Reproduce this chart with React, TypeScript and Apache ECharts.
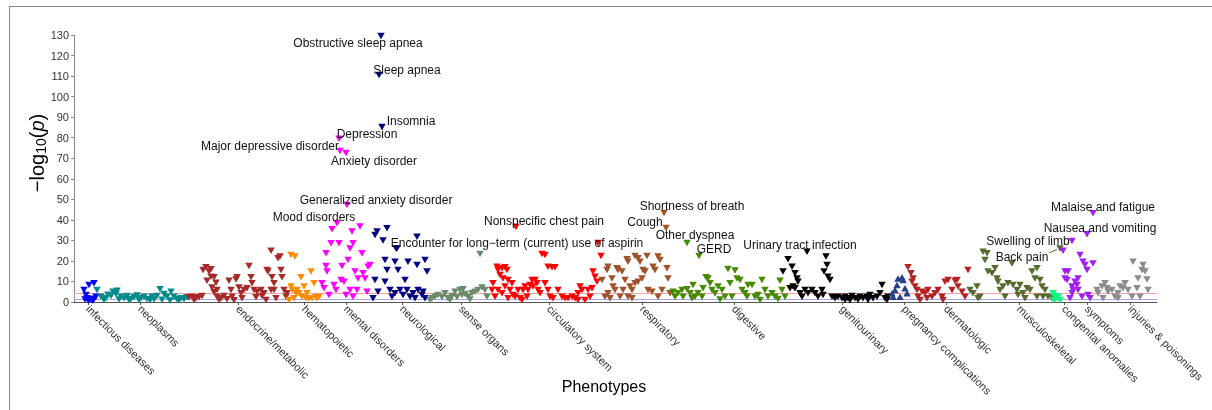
import React, { useEffect, useRef } from "react";
import * as echarts from "echarts";

// ---- categories (phenotype groups) ----
const groupNames = [
  "infectious diseases", "neoplasms", "endocrine/metabolic", "hematopoietic",
  "mental disorders", "neurological", "sense organs", "circulatory system",
  "respiratory", "digestive", "genitourinary", "pregnancy complications",
  "dermatologic", "musculoskeletal", "congenital anomalies", "symptoms",
  "injuries & poisonings",
];
// x position (phenotype order index) of each group label
const groupTicks = [88, 140, 238, 304, 346, 402, 461, 549, 642, 734, 842, 904, 946, 1019, 1064, 1087, 1130];

// ---- series values: [phenotype index, -log10(p)] ----
const infectious = [[84,5.8],[89,8.3],[94,9.1],[86,3.4],[87,1.8],[91,1.3],[94,1.6],[96,2.6],[89,1.0],[92,1.0],[85,1.2],[88,0.8],[93,0.6]];
const neoplasms = [[97,5.8],[101,2.6],[106,1.8],[111,2.9],[113,5.0],[116,3.9],[117,5.5],[121,2.6],[124,1.8],[127,2.9],[131,1.5],[134,2.3],[137,3.2],[141,1.8],[144,2.6],[147,1.5],[152,2.6],[157,2.9],[160,6.2],[164,3.9],[167,2.6],[171,5.0],[174,2.6],[177,1.3],[181,1.8],[184,1.3],[187,2.3],[104,1.0],[119,1.2],[129,0.8],[139,1.0],[150,0.9],[162,1.1],[170,0.7],[179,0.9],[108,3.5],[154,1.2]];
const endocrine = [[189,2.3],[192,2.6],[196,1.8],[199,2.3],[202,2.9],[203,15.6],[206,16.9],[209,14.8],[211,15.9],[207,10.4],[211,12.3],[214,12.0],[216,9.4],[217,5.8],[212,7.1],[214,4.7],[217,2.6],[221,1.8],[224,2.9],[227,1.3],[229,10.4],[231,5.8],[232,2.6],[236,11.0],[237,12.0],[239,7.1],[241,4.2],[242,1.8],[244,5.8],[247,6.7],[249,17.5],[251,12.0],[252,9.1],[254,5.8],[256,2.3],[257,5.0],[261,5.8],[262,2.9],[264,4.2],[267,15.6],[268,14.8],[271,25.0],[272,12.0],[274,9.1],[276,1.8],[278,21.3],[280,22.1],[281,15.6],[282,12.0],[284,5.8],[286,2.6],[287,4.2],[274,5.8],[271,5.8],[266,1.0],[194,1.0],[219,1.0],[234,0.8]];
const hematopoietic = [[291,22.9],[295,22.1],[291,7.5],[292,5.8],[294,1.8],[296,4.2],[297,5.8],[299,4.2],[301,12.0],[302,2.6],[304,7.5],[306,1.8],[307,4.2],[309,1.8],[311,14.8],[312,1.8],[314,9.1],[316,2.3],[317,1.8],[319,2.6],[289,1.0]];
const mental = [[322,9.1],[324,6.7],[326,23.7],[326,17.5],[327,14.8],[329,3.4],[331,28.6],[332,35.4],[334,8.3],[336,5.8],[339,28.6],[341,10.7],[342,17.5],[344,9.9],[346,3.4],[352,34.3],[353,28.6],[350,26.1],[360,36.7],[362,23.7],[363,14.0],[365,11.5],[368,17.2],[370,18.0],[355,14.8],[357,5.8],[358,11.5],[348,20.5],[367,5.0],[350,5.8],[353,2.6]];
const neurological = [[375,32.6],[377,34.3],[383,29.9],[387,35.9],[385,20.5],[387,15.6],[395,19.6],[398,15.6],[397,26.1],[408,19.6],[417,31.8],[417,18.0],[425,20.5],[427,14.8],[375,10.7],[385,9.9],[390,5.8],[392,2.6],[395,4.2],[400,5.8],[403,3.4],[407,5.8],[410,2.6],[413,4.2],[415,1.8],[418,5.8],[422,3.4],[423,5.0],[425,1.8],[405,10.7],[373,1.8],[378,5.0],[396,26.0]];
const senseOrgans = [[432,1.8],[435,2.6],[438,3.4],[442,2.3],[445,4.2],[448,1.8],[452,2.9],[455,5.0],[460,5.8],[462,3.4],[465,3.9],[468,2.6],[472,4.2],[475,5.0],[478,5.8],[482,7.1],[485,5.8],[487,2.6],[463,6.2],[457,2.3],[480,23.4],[430,1.0],[450,1.0],[470,1.2]];
const circulatory = [[497,17.2],[498,15.6],[502,16.4],[505,16.9],[507,15.6],[500,13.1],[503,11.5],[508,10.7],[512,9.1],[492,5.8],[495,2.6],[493,9.1],[498,5.8],[502,4.2],[505,7.5],[510,5.8],[513,3.4],[515,2.6],[518,5.8],[520,1.8],[523,5.8],[525,7.5],[527,2.6],[528,5.8],[530,8.3],[532,10.7],[533,7.5],[535,10.7],[537,9.1],[538,5.8],[540,4.2],[542,23.4],[545,22.9],[548,17.2],[552,16.9],[555,16.9],[545,9.1],[548,5.8],[550,2.6],[553,1.8],[558,5.8],[562,2.6],[565,1.8],[568,1.8],[572,2.6],[575,1.8],[578,4.2],[580,7.5],[582,5.8],[585,1.0],[588,5.8],[593,14.8],[595,12.3],[601,22.4],[597,9.9],[592,6.7],[590,2.6],[578,1.0],[508,1.8],[522,1.0]];
const respiratory = [[602,10.7],[607,15.6],[608,17.2],[612,11.5],[613,7.5],[615,5.8],[608,4.2],[610,1.8],[605,2.6],[617,16.4],[618,15.6],[622,14.8],[627,20.8],[628,19.6],[635,22.4],[638,21.3],[640,19.6],[647,22.4],[658,22.1],[660,20.5],[625,10.7],[630,7.5],[635,9.1],[638,9.9],[642,11.5],[643,15.6],[645,14.8],[653,17.2],[655,15.6],[667,16.4],[668,11.5],[632,5.8],[628,2.6],[648,5.8],[652,5.0],[662,5.8],[623,5.8],[620,2.6],[658,2.6],[632,1.8],[670,4.2]];
const digestive = [[673,5.0],[675,2.6],[678,4.2],[682,5.8],[683,2.6],[687,6.2],[690,4.2],[693,8.3],[695,2.6],[698,4.2],[703,6.7],[706,12.0],[708,11.5],[710,9.1],[712,5.8],[715,4.2],[718,7.5],[722,5.8],[725,2.6],[728,16.1],[730,9.1],[735,15.3],[737,11.5],[740,10.7],[742,5.8],[745,4.2],[748,8.3],[752,8.3],[755,2.6],[758,3.4],[762,10.7],[765,5.8],[768,2.6],[772,4.2],[775,2.6],[780,10.4],[782,5.8],[785,2.6],[747,2.6],[732,2.6],[702,2.6],[692,1.8],[720,1.2],[760,1.0],[778,1.5]];
const genitourinary = [[783,14.8],[788,20.8],[792,17.2],[795,14.0],[797,11.5],[798,9.9],[793,7.5],[790,6.7],[795,6.7],[800,4.2],[802,2.6],[805,5.8],[808,4.2],[812,5.8],[815,4.2],[818,2.6],[822,5.8],[824,14.8],[826,22.1],[827,18.0],[828,12.3],[830,10.7],[823,3.4],[832,2.6],[835,1.8],[838,2.6],[842,1.8],[845,2.6],[848,1.8],[852,2.9],[855,1.8],[860,2.6],[863,1.8],[867,2.6],[870,3.4],[873,1.8],[877,2.6],[880,4.2],[882,8.3],[885,1.8],[888,2.6],[887,1.0],[868,1.0],[845,1.0],[850,0.8],[858,1.1]];
const pregnancy = [[892,4.2],[895,5.8],[897,8.3],[898,11.5],[902,12.0],[903,10.7],[905,6.7],[900,2.6],[893,2.6],[907,4.2]];
const dermatologic = [[908,16.9],[911,14.0],[912,9.9],[913,11.5],[915,7.5],[917,5.8],[918,2.6],[922,5.0],[925,4.2],[928,5.8],[932,2.6],[935,4.2],[938,5.8],[942,2.6],[945,9.9],[948,10.7],[952,5.8],[955,10.4],[957,10.7],[958,7.5],[962,5.0],[965,2.6],[968,15.6],[920,1.0],[943,1.0],[927,1.8]];
const musculoskeletal = [[970,5.8],[973,4.2],[977,7.5],[980,2.6],[983,24.5],[987,23.7],[985,20.5],[988,14.8],[992,14.0],[995,16.4],[997,11.5],[998,9.9],[1000,5.8],[1003,7.5],[1008,9.1],[1012,18.8],[1013,8.3],[1017,5.8],[1020,8.3],[1023,4.2],[1027,6.7],[1030,5.8],[1032,14.8],[1035,11.5],[1037,16.4],[1040,10.7],[1042,7.5],[1043,2.6],[1045,5.8],[1048,2.6],[1052,1.8],[978,1.8],[1005,2.6],[1025,1.8],[1018,3.4],[1037,2.6]];
const congenital = [[1053,4.2],[1055,2.9],[1057,1.8],[1058,2.6],[1060,1.0],[1054,1.0]];
const symptoms = [[1065,14.8],[1068,14.8],[1065,11.5],[1067,10.7],[1072,7.5],[1073,5.8],[1075,9.9],[1077,8.3],[1078,5.8],[1082,2.6],[1083,19.6],[1085,18.0],[1080,22.9],[1087,15.6],[1088,3.4],[1090,1.8],[1093,18.8],[1072,4.2],[1070,1.8],[1078,11.5],[1063,25.0]];
const injuries = [[1097,5.8],[1098,4.2],[1102,7.5],[1105,9.1],[1107,6.7],[1108,5.0],[1112,5.8],[1115,2.6],[1118,4.2],[1120,7.5],[1123,6.7],[1125,9.1],[1128,5.8],[1132,2.6],[1133,19.6],[1137,6.7],[1138,11.5],[1142,15.6],[1143,18.0],[1145,14.8],[1147,11.0],[1148,5.8],[1140,2.6],[1118,1.8],[1103,1.8]];

const groupData = [infectious, neoplasms, endocrine, hematopoietic, mental, neurological, senseOrgans, circulatory, respiratory, digestive, genitourinary, pregnancy, dermatologic, musculoskeletal, congenital, symptoms, injuries];

// ---- annotated phenotypes ----
const annotNames = [
  "Obstructive sleep apnea", "Sleep apnea", "Insomnia", "Depression",
  "Major depressive disorder", "Anxiety disorder", "Generalized anxiety disorder",
  "Mood disorders", "Nonspecific chest pain",
  "Encounter for long\u2212term (current) use of aspirin",
  "Shortness of breath", "Cough", "Other dyspnea", "GERD",
  "Urinary tract infection", "Malaise and fatigue", "Nausea and vomiting",
  "Swelling of limb", "Back pain",
];
const annotGroup = [5, 5, 5, 4, 4, 4, 4, 4, 7, 7, 8, 8, 9, 9, 10, 15, 15, 15, 13];
const annotX = [381, 379, 382, 339, 340, 346, 347, 337, 516, 598, 664, 666, 687, 699, 807, 1093, 1087, 1072, 1060];
const annotY = [129.5, 110.5, 85.2, 79.5, 73.5, 72.5, 47.2, 38.3, 36.5, 28.7, 43.3, 36.0, 28.7, 22.4, 24.5, 43.2, 33.0, 29.7, 26.0];

// ---- styling (kept apart from data) ----
const groupColors = ["#0000ff", "#008b8b", "#a52a2a", "#ff8c00", "#ff00ff", "#000080", "#698b69", "#ff0000", "#a0522d", "#458b00", "#000000", "#27408b", "#b22222", "#556b2f", "#00ff7f", "#a020f0", "#8c8c8c"];
const labelOffsets = [[-23, 7], [28, -5], [29, -6], [28, -5], [-70, -5], [28, 8], [29, -5], [-23, -6], [28, -6], [-81, 0], [28, -7], [-21, -6], [8, -8], [15, -7], [-7, -7], [10, -6], [13, -6], [-44, 0], [-38, 8]];
const backPainLeader = [[1049, 23.9], [1057, 25.6]];
const thresholdBonferroni = 4.4;
const thresholdNominal = 1.3;

const FONT = "'Liberation Sans', Arial, Helvetica, sans-serif";

export default function App() {
  const ref = useRef<HTMLDivElement>(null);
  useEffect(() => {
    if (!ref.current) return;
    const chart = echarts.init(ref.current, null, { renderer: "svg" });

    const series: any[] = groupData.map((pts, gi) => {
      const data: any[] = pts.map((p) => ({ value: p }));
      annotNames.forEach((name, ai) => {
        if (annotGroup[ai] !== gi) return;
        data.push({
          value: [annotX[ai], annotY[ai]],
          label: {
            show: true,
            formatter: name,
            position: "inside",
            offset: labelOffsets[ai],
            color: "#111",
            fontSize: 12,
            fontFamily: FONT,
          },
        });
      });
      const s: any = {
        type: "scatter",
        name: groupNames[gi],
        data,
        symbol: "triangle",
        symbolRotate: gi === 11 ? 0 : 180,
        symbolSize: [7.5, 6.5],
        itemStyle: { color: groupColors[gi], opacity: 1 },
        z: 3,
      };
      if (gi === 0) {
        s.markLine = {
          silent: true,
          symbol: "none",
          label: { show: false },
          z: 1,
          data: [
            { yAxis: thresholdBonferroni, lineStyle: { color: "#f2a2a2", width: 1, type: "solid" } },
            { yAxis: thresholdNominal, lineStyle: { color: "#a8a8ee", width: 1, type: "solid" } },
          ],
        };
      }
      return s;
    });

    series.push({
      type: "line",
      data: backPainLeader,
      symbol: "none",
      lineStyle: { color: "#556b2f", width: 1 },
      z: 4,
      silent: true,
    });

    chart.setOption({
      animation: false,
      grid: { left: 74, right: 55, top: 35, bottom: 108, containLabel: false },
      xAxis: {
        type: "value",
        min: 74,
        max: 1157,
        splitLine: { show: false },
        axisLine: { show: true, lineStyle: { color: "#555", width: 1 } },
        axisTick: { show: true, length: 3, lineStyle: { color: "#555" }, customValues: groupTicks },
        axisLabel: {
          customValues: groupTicks,
          formatter: (v: number) => {
            const i = groupTicks.indexOf(Math.round(v));
            return i >= 0 ? groupNames[i] : "";
          },
          rotate: -45,
          fontSize: 11,
          color: "#333",
          fontFamily: FONT,
          margin: 5,
        },
      },
      yAxis: {
        type: "value",
        min: 0,
        max: 130,
        interval: 10,
        splitLine: { show: false },
        axisLine: { show: true, lineStyle: { color: "#888", width: 1 } },
        axisTick: { show: true, length: 3, lineStyle: { color: "#888" } },
        axisLabel: { fontSize: 11, color: "#333", fontFamily: FONT, margin: 5 },
      },
      graphic: [
        { type: "line", shape: { x1: 9, y1: 6.5, x2: 1212, y2: 6.5 }, style: { stroke: "#888", lineWidth: 1 } },
        { type: "line", shape: { x1: 9.5, y1: 6, x2: 9.5, y2: 410 }, style: { stroke: "#888", lineWidth: 1 } },
        {
          type: "text",
          x: 604,
          y: 386,
          style: { text: "Phenotypes", fontSize: 16, fontFamily: FONT, fill: "#000", align: "center", verticalAlign: "middle" },
        },
        {
          type: "text",
          x: 37,
          y: 153,
          rotation: Math.PI / 2,
          style: {
            text: "\u2212log{sub|10}({it|p})",
            fontSize: 20,
            fontFamily: FONT,
            fill: "#000",
            align: "center",
            verticalAlign: "middle",
            rich: {
              sub: { fontSize: 14, fontFamily: FONT, fill: "#000", verticalAlign: "bottom", padding: [8, 0, 0, 0] },
              it: { fontSize: 20, fontFamily: FONT, fontStyle: "italic", fill: "#000" },
            },
          },
        },
      ],
      series,
    });
    return () => chart.dispose();
  }, []);
  return <div ref={ref} style={{ position: "fixed", left: 0, top: 0, width: 1212, height: 410 }} />;
}
